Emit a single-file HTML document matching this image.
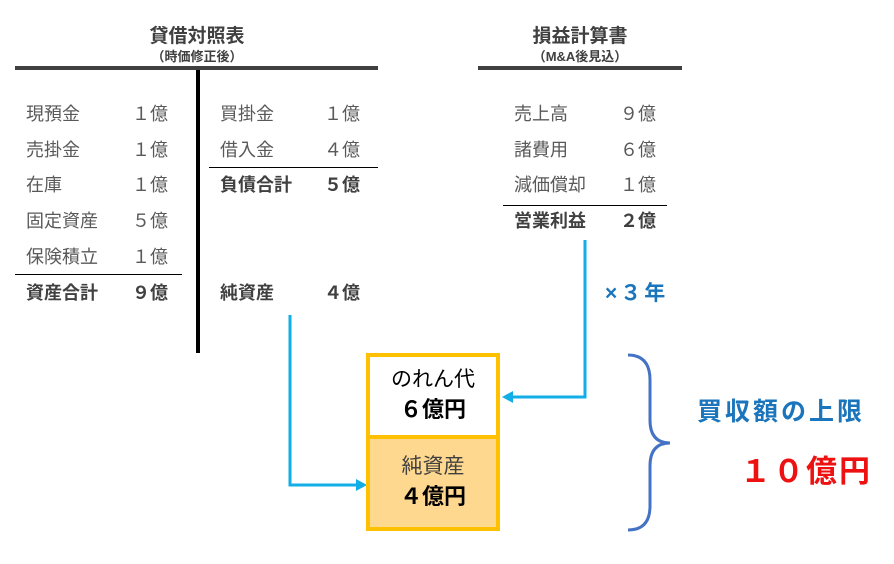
<!DOCTYPE html><html><head><meta charset="utf-8"><style>
body{margin:0;width:894px;height:564px;background:#fff;position:relative;font-family:"Liberation Sans","Noto Sans CJK JP",sans-serif;overflow:hidden}
.t{position:absolute;white-space:nowrap;line-height:1;color:#595959;font-size:18px}
.b{font-weight:bold;color:#404040}
.c{transform:translateX(-50%)}
.l{position:absolute;background:#000}
</style></head><body>
<div class="t b c" style="left:197px;top:27px;font-size:19px">貸借対照表</div>
<div class="t b c" style="left:197px;top:50px;font-size:13px">（時価修正後）</div>
<div class="l" style="left:15px;top:66px;width:363px;height:4px;background:#404040"></div>
<div class="l" style="left:196px;top:70px;width:4px;height:283px"></div>
<div class="l" style="left:15px;top:274px;width:167px;height:1px"></div>
<div class="l" style="left:209px;top:167px;width:169px;height:1px"></div>

<div class="t" style="left:26px;top:105px">現預金</div><div class="t" style="left:132px;top:105px">１億</div>
<div class="t" style="left:26px;top:141px">売掛金</div><div class="t" style="left:132px;top:141px">１億</div>
<div class="t" style="left:26px;top:176px">在庫</div><div class="t" style="left:132px;top:176px">１億</div>
<div class="t" style="left:26px;top:212px">固定資産</div><div class="t" style="left:132px;top:212px">５億</div>
<div class="t" style="left:26px;top:248px">保険積立</div><div class="t" style="left:132px;top:248px">１億</div>
<div class="t b" style="left:26px;top:284px">資産合計</div><div class="t b" style="left:132px;top:284px">９億</div>
<div class="t" style="left:220px;top:105px">買掛金</div><div class="t" style="left:324px;top:105px">１億</div>
<div class="t" style="left:220px;top:141px">借入金</div><div class="t" style="left:324px;top:141px">４億</div>
<div class="t b" style="left:220px;top:176px">負債合計</div><div class="t b" style="left:324px;top:176px">５億</div>
<div class="t b" style="left:220px;top:284px">純資産</div><div class="t b" style="left:324px;top:284px">４億</div>

<div class="t b c" style="left:580px;top:27px;font-size:19px">損益計算書</div>
<div class="t b c" style="left:580px;top:50px;font-size:13px">（M&amp;A後見込）</div>
<div class="l" style="left:478px;top:66px;width:204px;height:4px;background:#404040"></div>
<div class="l" style="left:503px;top:205px;width:164px;height:1px"></div>
<div class="t" style="left:514px;top:105px">売上高</div><div class="t" style="left:620px;top:105px">９億</div>
<div class="t" style="left:514px;top:141px">諸費用</div><div class="t" style="left:620px;top:141px">６億</div>
<div class="t" style="left:514px;top:176px">減価償却</div><div class="t" style="left:620px;top:176px">１億</div>
<div class="t b" style="left:514px;top:212px">営業利益</div><div class="t b" style="left:620px;top:212px">２億</div>
<div class="t b" style="left:605px;top:283px;font-size:21px;color:#1a75bc;letter-spacing:3px">×３年</div>

<svg style="position:absolute;left:0;top:0" width="894" height="564">
<polyline points="585,240 585,397 510,397" fill="none" stroke="#12aee8" stroke-width="3"/>
<polygon points="502,397 513,391 513,403" fill="#12aee8"/>
<polyline points="290,315 290,485 358,485" fill="none" stroke="#12aee8" stroke-width="3"/>
<polygon points="367,485 356,479 356,491" fill="#12aee8"/>
<rect x="368" y="355" width="130" height="82" fill="#fff" stroke="#ffc000" stroke-width="4"/>
<rect x="368" y="437" width="130" height="92" fill="#ffd890" stroke="#ffc000" stroke-width="4"/>
<path d="M628,355 Q650,355 650,380 L650,420 Q650,443 670,443 Q650,443 650,466 L650,506 Q650,530 628,530" fill="none" stroke="#4472c4" stroke-width="3"/>
</svg>
<div class="t c" style="left:433px;top:369px;font-size:21px;color:#000">のれん代</div>
<div class="t c" style="left:433px;top:399px;font-size:22px;color:#000;font-weight:bold">６億円</div>
<div class="t c" style="left:433px;top:456px;font-size:21px;color:#404040">純資産</div>
<div class="t c" style="left:433px;top:486px;font-size:22px;color:#000;font-weight:bold">４億円</div>
<div class="t b" style="left:697px;top:400px;font-size:25px;color:#1a75bc;letter-spacing:3px">買収額の上限</div>
<div class="t b" style="left:740px;top:456px;font-size:31px;color:#ee1111;letter-spacing:2px">１０億円</div>
</body></html>
